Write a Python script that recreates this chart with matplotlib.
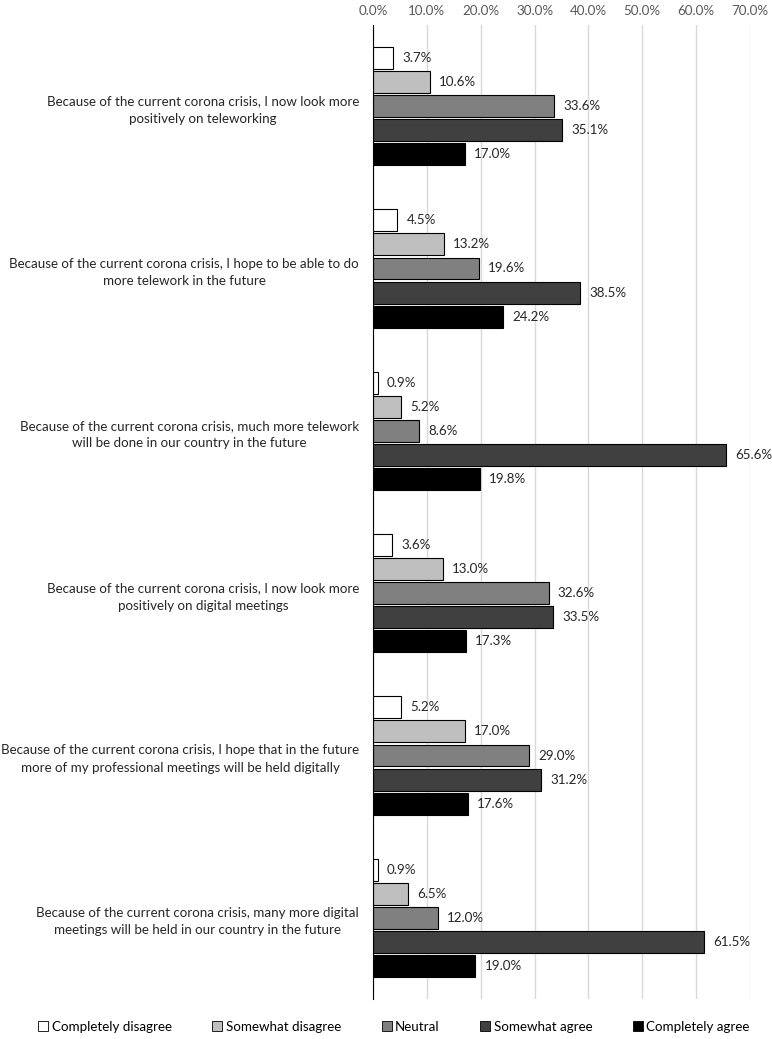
import matplotlib
matplotlib.use("Agg")
import matplotlib.pyplot as plt
from matplotlib.patches import Patch
import numpy as np

plt.rcParams['font.family'] = ['Lato', 'DejaVu Sans']

statements = [
    "Because of the current corona crisis, I now look more\npositively on teleworking",
    "Because of the current corona crisis, I hope to be able to do\nmore telework in the future",
    "Because of the current corona crisis, much more telework\nwill be done in our country in the future",
    "Because of the current corona crisis, I now look more\npositively on digital meetings",
    "Because of the current corona crisis, I hope that in the future\nmore of my professional meetings will be held digitally",
    "Because of the current corona crisis, many more digital\nmeetings will be held in our country in the future",
]
series_names = ["Completely disagree", "Somewhat disagree", "Neutral", "Somewhat agree", "Completely agree"]
completely_disagree = [3.7, 4.5, 0.9, 3.6, 5.2, 0.9]
somewhat_disagree = [10.6, 13.2, 5.2, 13.0, 17.0, 6.5]
neutral = [33.6, 19.6, 8.6, 32.6, 29.0, 12.0]
somewhat_agree = [35.1, 38.5, 65.6, 33.5, 31.2, 61.5]
completely_agree = [17.0, 24.2, 19.8, 17.3, 17.6, 19.0]
x_ticks = [0, 10, 20, 30, 40, 50, 60, 70]

series = [completely_disagree, somewhat_disagree, neutral, somewhat_agree, completely_agree]
colors = ["#FFFFFF", "#BFBFBF", "#808080", "#404040", "#000000"]

FS = 9.6

fig = plt.figure(figsize=(7.72, 10.39), dpi=100)
ax = fig.add_axes([373/772, 1 - 999/1039, 377/772, (999-25)/1039])

pitch = 0.148
h = 0.1355
y = np.arange(len(statements))
for i, (vals, c) in enumerate(zip(series, colors)):
    pos = y + (i - 2) * pitch
    ax.barh(pos, vals, height=h, color=c, edgecolor="#000000", linewidth=0.8, zorder=3)
    for p, v in zip(pos, vals):
        ax.text(v + 1.7, p, f"{v:.1f}%", va="center", ha="left", fontsize=FS, color="#262626")

ax.set_ylim(len(statements) - 0.5, -0.5)
ax.set_xlim(0, 70)
ax.set_yticks(y)
ax.set_yticklabels(statements, fontsize=FS, ha="right", multialignment="center",
                   linespacing=1.55, color="#262626")
ax.tick_params(axis="y", length=0, pad=10)
ax.xaxis.tick_top()
ax.set_xticks(x_ticks)
ax.set_xticklabels([f"{t:.1f}%" for t in x_ticks], fontsize=FS, color="#595959")
ax.tick_params(axis="x", length=0, pad=6)
ax.grid(axis="x", color="#D9D9D9", linewidth=1, zorder=0)
for s in ["top", "right", "bottom"]:
    ax.spines[s].set_visible(False)
ax.spines["left"].set_color("#000000")
ax.spines["left"].set_linewidth(0.8)
ax.spines["left"].set_zorder(4)

handles = [Patch(facecolor=c, edgecolor="#000000", linewidth=0.6) for c in colors]
fig.legend(handles, series_names, loc="center", bbox_to_anchor=(394/772, 1 - 1027/1039), ncol=5,
           frameon=False, fontsize=FS, handlelength=0.75, handleheight=0.75, handletextpad=0.25,
           columnspacing=3.05, borderaxespad=0, borderpad=0)

fig.savefig("out.png", dpi=100)
